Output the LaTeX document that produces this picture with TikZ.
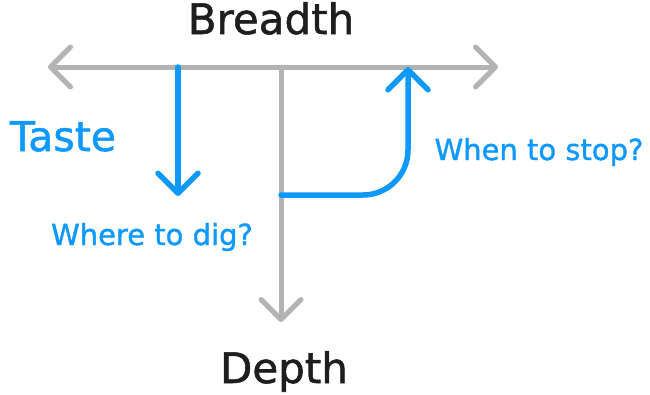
\documentclass[tikz,border=0pt]{standalone}
\usepackage{fontspec}
\setmainfont{DejaVu Sans}[FakeBold=1.3]
\usetikzlibrary{arrows.meta}
\definecolor{axisgray}{HTML}{B3B3B3}
\definecolor{tasteblue}{HTML}{0F99FF}
\definecolor{labelblack}{HTML}{1E1E1E}
\tikzset{
  chev/.tip={Straight Barb[length=20pt,width=40pt,round]},
  axisline/.style={draw=axisgray, line width=5pt, line cap=round},
  tasteline/.style={draw=tasteblue, line width=5.5pt, line cap=round},
  axislabel/.style={text=labelblack, font=\fontsize{42}{42}\selectfont, inner sep=0pt, anchor=base},
  tastelabel/.style={text=tasteblue, font=\fontsize{29}{29}\selectfont, inner sep=0pt, anchor=base}
}
\begin{document}
\begin{tikzpicture}[x=1pt, y=-1pt]
  \useasboundingbox (0,0) rectangle (650,394);
  % axes
  \coordinate (bl) at (48,67);
  \coordinate (br) at (498,67);
  \coordinate (top) at (281,67);
  \coordinate (dep) at (281,322);
  \draw[axisline, chev-chev] (bl) -- (br);
  \draw[axisline, -chev] (top) -- (dep);
  % where to dig / when to stop
  \coordinate (dig0) at (178,67);
  \coordinate (dig1) at (178,196);
  \coordinate (stop0) at (281,195);
  \coordinate (stop1) at (408,67);
  \draw[tasteline, -chev] (dig0) -- (dig1);
  \draw[tasteline, -chev, rounded corners=45pt] (stop0) -| (stop1);
  \node[axislabel] (breadth) at (271,34) {Breadth};
  \node[axislabel] (depth) at (284,383) {Depth};
  \node[tastelabel, font=\fontsize{41}{41}\selectfont] (taste) at (63,151) {Taste};
  \node[tastelabel] (dig) at (152,245) {Where to dig?};
  \node[tastelabel] (stop) at (539,160) {When to stop?};
\end{tikzpicture}
\end{document}
